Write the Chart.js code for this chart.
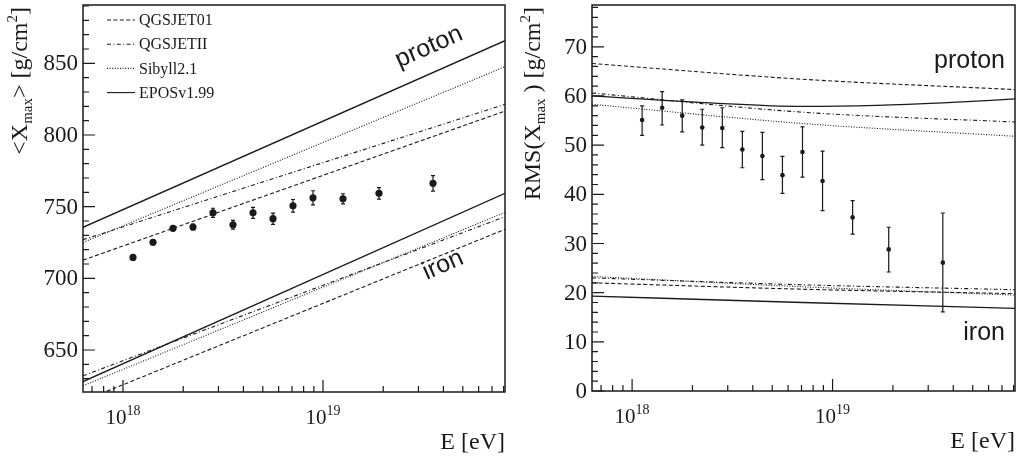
<!DOCTYPE html>
<html>
<head>
<meta charset="utf-8">
<script src="https://cdn.jsdelivr.net/npm/chart.js@4.4.1/dist/chart.umd.min.js"></script>
<style>
  html, body { margin: 0; padding: 0; background: #fff; }
  #wrap { position: relative; width: 1019px; height: 457px; }
  .box { position: absolute; top: 0; height: 457px; }
  #boxMean { left: 0; width: 510px; }
  #boxRms { left: 510px; width: 509px; }
</style>
</head>
<body>
<div id="wrap">
  <div class="box" id="boxMean"><canvas id="ChartMean" width="510" height="457"></canvas></div>
  <div class="box" id="boxRms"><canvas id="ChartRms" width="509" height="457"></canvas></div>
</div>
<script>
// hadronic models (legend)
const modelNames = ['QGSJET01', 'QGSJETII', 'Sibyll2.1', 'EPOSv1.99'];
const modelDash = [[4, 2.4], [4, 2.4, 1, 2.4], [1, 1.6], []];

// measured points, bin centres in log10(E/eV)
const binLgE = [18.05, 18.15, 18.25, 18.35, 18.45, 18.55, 18.65, 18.75, 18.85, 18.95, 19.10, 19.28, 19.55];
const meanXmax = [714.6, 725.1, 734.9, 735.8, 745.7, 737.4, 745.7, 741.6, 750.6, 756.2, 755.5, 759.3, 766.3];
const meanXmaxErr = [1.5, 1.6, 1.8, 2.0, 3.2, 3.0, 3.8, 3.9, 4.4, 4.9, 3.5, 4.0, 5.4];
const rmsXmax = [55.1, 57.6, 56.0, 53.6, 53.5, 49.1, 47.8, 43.9, 48.6, 42.7, 35.3, 28.8, 26.1];
const rmsXmaxHi = [58.0, 60.9, 59.2, 57.3, 57.6, 52.8, 52.6, 47.7, 53.7, 48.8, 38.7, 33.3, 36.2];
const rmsXmaxLo = [52.0, 54.1, 52.7, 50.0, 49.5, 45.4, 43.0, 40.2, 43.5, 36.7, 31.9, 24.2, 16.1];

// model predictions <Xmax>
const meanModelLgE = [17.8, 19.91];
const meanProtonQGS01 = [712.7, 816.7];
const meanProtonQGSII = [727.0, 821.4];
const meanProtonSibyll = [725.0, 847.7];
const meanProtonEPOS = [735.6, 865.8];
const meanIronQGS01 = [614.4, 734.2];
const meanIronQGSII = [632.0, 743.0];
const meanIronSibyll = [625.0, 746.0];
const meanIronEPOS = [628.0, 759.3];

// model predictions RMS(Xmax)
const rmsModelLgE = [17.8, 18.85, 19.91];
const rmsProtonQGS01 = [66.6, 63.4, 61.3];
const rmsProtonQGSII = [60.6, 56.7, 54.7];
const rmsProtonSibyll = [58.3, 54.4, 51.8];
const rmsEposLgE = [17.8, 18.39, 18.85, 19.22, 19.55, 19.91];
const rmsProtonEPOS = [60.0, 58.6, 57.9, 58.1, 58.6, 59.4];
const rmsIronQGS01 = [22.0, 20.7, 19.8];
const rmsIronQGSII = [23.0, 21.6, 20.6];
const rmsIronSibyll = [23.3, 21.2, 19.5];
const rmsIronEPOS = [19.3, 18.0, 16.8];

// axes
const xMajorTicks = [1e18, 1e19];
const xTickExp = ['18', '19'];
const meanYTicks = [650, 700, 750, 800, 850];
const rmsYTicks = [0, 10, 20, 30, 40, 50, 60, 70];

const SERIF = '"Liberation Serif", "Times New Roman", serif';
const SANS = '"Liberation Sans", Arial, sans-serif';
const INK = '#1a1a1a';

function toXY(lgs, ys) {
  return lgs.map(function(l, i) { return { x: Math.pow(10, l), y: ys[i] }; });
}

function modelLine(lgs, ys, m, tension) {
  return {
    data: toXY(lgs, ys),
    showLine: true,
    borderColor: INK,
    borderWidth: m == 3 ? 1.3 : 1.1,
    borderDash: modelDash[m],
    pointRadius: 0,
    tension: tension,
    cubicInterpolationMode: tension ? 'monotone' : 'default',
    order: 1
  };
}

function drawRich(ctx, parts, x, y, align, family) {
  var w = 0;
  parts.forEach(function(p) { ctx.font = p.size + 'px ' + family; w += ctx.measureText(p.text).width; });
  var cx = align == 'right' ? x - w : (align == 'center' ? x - w / 2 : x);
  ctx.textAlign = 'left';
  parts.forEach(function(p) {
    ctx.font = p.size + 'px ' + family;
    ctx.fillText(p.text, cx, y + (p.dy || 0));
    cx += ctx.measureText(p.text).width;
  });
}

function makeErrorBars(lo, hi, cap) {
  return {
    id: 'errorBars',
    beforeDatasetsDraw: function(chart) {
      var ctx = chart.ctx, x = chart.scales.x, y = chart.scales.y;
      ctx.save();
      ctx.strokeStyle = INK;
      ctx.lineWidth = 1.2;
      lo.forEach(function(l, i) {
        var px = x.getPixelForValue(Math.pow(10, binLgE[i]));
        var y1 = y.getPixelForValue(l), y2 = y.getPixelForValue(hi[i]);
        ctx.beginPath();
        ctx.moveTo(px, y1); ctx.lineTo(px, y2);
        ctx.moveTo(px - cap, y1); ctx.lineTo(px + cap, y1);
        ctx.moveTo(px - cap, y2); ctx.lineTo(px + cap, y2);
        ctx.stroke();
      });
      ctx.restore();
    }
  };
}

// frame, inward ticks, labels and titles (ROOT style)
function makeFrame(cfg) {
  return {
    id: 'frame',
    afterDraw: function(chart) {
      var ctx = chart.ctx, a = chart.chartArea, x = chart.scales.x, y = chart.scales.y;
      ctx.save();
      ctx.strokeStyle = INK;
      ctx.fillStyle = INK;
      ctx.lineWidth = 1.5;
      ctx.strokeRect(a.left, a.top, a.right - a.left, a.bottom - a.top);

      ctx.lineWidth = 1.2;
      ctx.beginPath();
      // y ticks
      for (var v = cfg.yMinorFrom; v <= y.max; v += cfg.yMinorStep) {
        var py = y.getPixelForValue(v);
        var major = cfg.yTicks.indexOf(Math.round(v * 100) / 100) >= 0;
        ctx.moveTo(a.left, py); ctx.lineTo(a.left + (major ? 12 : 6), py);
      }
      // x ticks (log, 1..9 per decade)
      for (var d = 17; d <= 19; d++) {
        for (var k = 1; k <= 9; k++) {
          var e = k * Math.pow(10, d);
          if (e < x.min || e > x.max) continue;
          var px = x.getPixelForValue(e);
          ctx.moveTo(px, a.bottom); ctx.lineTo(px, a.bottom - (k == 1 ? 12 : 6));
        }
      }
      ctx.stroke();

      // y tick labels
      ctx.textBaseline = 'middle';
      ctx.textAlign = 'right';
      ctx.font = '23px ' + SERIF;
      cfg.yTicks.forEach(function(t) {
        ctx.fillText(String(t), a.left - 5, y.getPixelForValue(t) + 1);
      });
      // x tick labels 10^n
      ctx.textBaseline = 'alphabetic';
      xMajorTicks.forEach(function(t, i) {
        drawRich(ctx, [{ text: '10', size: 21 }, { text: xTickExp[i], size: 14, dy: -9 }],
          x.getPixelForValue(t), a.bottom + 32, 'center', SERIF);
      });
      // x title
      ctx.font = '24px ' + SERIF;
      ctx.textAlign = 'right';
      ctx.fillText('E [eV]', a.right, a.bottom + 57);
      // y title
      ctx.save();
      ctx.translate(cfg.titleX, a.top + 2);
      ctx.rotate(-Math.PI / 2);
      drawRich(ctx, cfg.yTitle, 0, 0, 'right', SERIF);
      ctx.restore();

      if (cfg.after) cfg.after(chart, ctx, a, x, y);
      ctx.restore();
    }
  };
}

function baseOptions(yMin, yMax, pad) {
  return {
    responsive: false,
    animation: false,
    layout: { padding: pad },
    plugins: { legend: { display: false }, tooltip: { enabled: false } },
    scales: {
      x: { type: 'logarithmic', min: Math.pow(10, 17.8), max: Math.pow(10, 19.91), display: false },
      y: { type: 'linear', min: yMin, max: yMax, display: false }
    }
  };
}

// ---------- <Xmax> ----------
const ctxMean = document.getElementById('ChartMean').getContext('2d');
new Chart(ctxMean, {
  type: 'scatter',
  data: {
    datasets: [
      {
        data: toXY(binLgE, meanXmax),
        pointRadius: 3.6,
        pointBackgroundColor: INK,
        pointBorderWidth: 0,
        showLine: false,
        order: 0
      },
      modelLine(meanModelLgE, meanProtonQGS01, 0, 0),
      modelLine(meanModelLgE, meanProtonQGSII, 1, 0),
      modelLine(meanModelLgE, meanProtonSibyll, 2, 0),
      modelLine(meanModelLgE, meanProtonEPOS, 3, 0),
      modelLine(meanModelLgE, meanIronQGS01, 0, 0),
      modelLine(meanModelLgE, meanIronQGSII, 1, 0),
      modelLine(meanModelLgE, meanIronSibyll, 2, 0),
      modelLine(meanModelLgE, meanIronEPOS, 3, 0)
    ]
  },
  options: baseOptions(620.7, 890.7, { left: 83, right: 5, top: 5, bottom: 65 }),
  plugins: [
    makeErrorBars(meanXmax.map(function(v, i) { return v - meanXmaxErr[i]; }),
                  meanXmax.map(function(v, i) { return v + meanXmaxErr[i]; }), 2),
    makeFrame({
      yTicks: meanYTicks, yMinorFrom: 630, yMinorStep: 10, titleX: 27,
      yTitle: [
        { text: '<X', size: 24 }, { text: 'max', size: 15, dy: 5 },
        { text: '> [g/cm', size: 24 }, { text: '2', size: 15, dy: -10 }, { text: ']', size: 24 }
      ],
      after: function(chart, ctx, a, x, y) {
        // legend
        modelNames.forEach(function(name, i) {
          var ly = a.top + 15 + i * 24.2;
          ctx.lineWidth = 1.1;
          ctx.setLineDash(modelDash[i]);
          ctx.beginPath(); ctx.moveTo(107, ly); ctx.lineTo(135, ly); ctx.stroke();
          ctx.setLineDash([]);
          ctx.font = '16px ' + SERIF;
          ctx.textAlign = 'left';
          ctx.textBaseline = 'middle';
          ctx.fillText(name, 139, ly + 1);
        });
        // rotated labels along the EPOS lines
        var ang = Math.atan2(y.getPixelForValue(meanProtonEPOS[1]) - y.getPixelForValue(meanProtonEPOS[0]),
                             x.getPixelForValue(Math.pow(10, meanModelLgE[1])) - x.getPixelForValue(Math.pow(10, meanModelLgE[0])));
        ctx.font = '25px ' + SANS;
        ctx.textAlign = 'center';
        ctx.textBaseline = 'middle';
        [['proton', 19.53, 861.4], ['iron', 19.6, 709.2]].forEach(function(l) {
          ctx.save();
          ctx.translate(x.getPixelForValue(Math.pow(10, l[1])), y.getPixelForValue(l[2]));
          ctx.rotate(ang);
          ctx.fillText(l[0], 0, 0);
          ctx.restore();
        });
      }
    })
  ]
});

// ---------- RMS(Xmax) ----------
const ctxRms = document.getElementById('ChartRms').getContext('2d');
new Chart(ctxRms, {
  type: 'scatter',
  data: {
    datasets: [
      {
        data: toXY(binLgE, rmsXmax),
        pointRadius: 2.3,
        pointBackgroundColor: INK,
        pointBorderWidth: 0,
        showLine: false,
        order: 0
      },
      modelLine(rmsModelLgE, rmsProtonQGS01, 0, 0.4),
      modelLine(rmsModelLgE, rmsProtonQGSII, 1, 0.4),
      modelLine(rmsModelLgE, rmsProtonSibyll, 2, 0.4),
      modelLine(rmsEposLgE, rmsProtonEPOS, 3, 0.4),
      modelLine(rmsModelLgE, rmsIronQGS01, 0, 0.4),
      modelLine(rmsModelLgE, rmsIronQGSII, 1, 0.4),
      modelLine(rmsModelLgE, rmsIronSibyll, 2, 0.4),
      modelLine(rmsModelLgE, rmsIronEPOS, 3, 0.4)
    ]
  },
  options: baseOptions(0, 78.5, { left: 82, right: 4, top: 5, bottom: 66 }),
  plugins: [
    makeErrorBars(rmsXmaxLo, rmsXmaxHi, 2),
    makeFrame({
      yTicks: rmsYTicks, yMinorFrom: 0, yMinorStep: 2, titleX: 30,
      yTitle: [
        { text: 'RMS(X', size: 24 }, { text: 'max', size: 15, dy: 5 },
        { text: ' ) [g/cm', size: 24 }, { text: '2', size: 15, dy: -10 }, { text: ']', size: 24 }
      ],
      after: function(chart, ctx, a, x, y) {
        ctx.font = '25px ' + SANS;
        ctx.textAlign = 'right';
        ctx.textBaseline = 'alphabetic';
        ctx.fillText('proton', x.getPixelForValue(Math.pow(10, 19.86)), y.getPixelForValue(65.7));
        ctx.fillText('iron', x.getPixelForValue(Math.pow(10, 19.86)), y.getPixelForValue(10.3));
      }
    })
  ]
});
</script>
</body>
</html>
